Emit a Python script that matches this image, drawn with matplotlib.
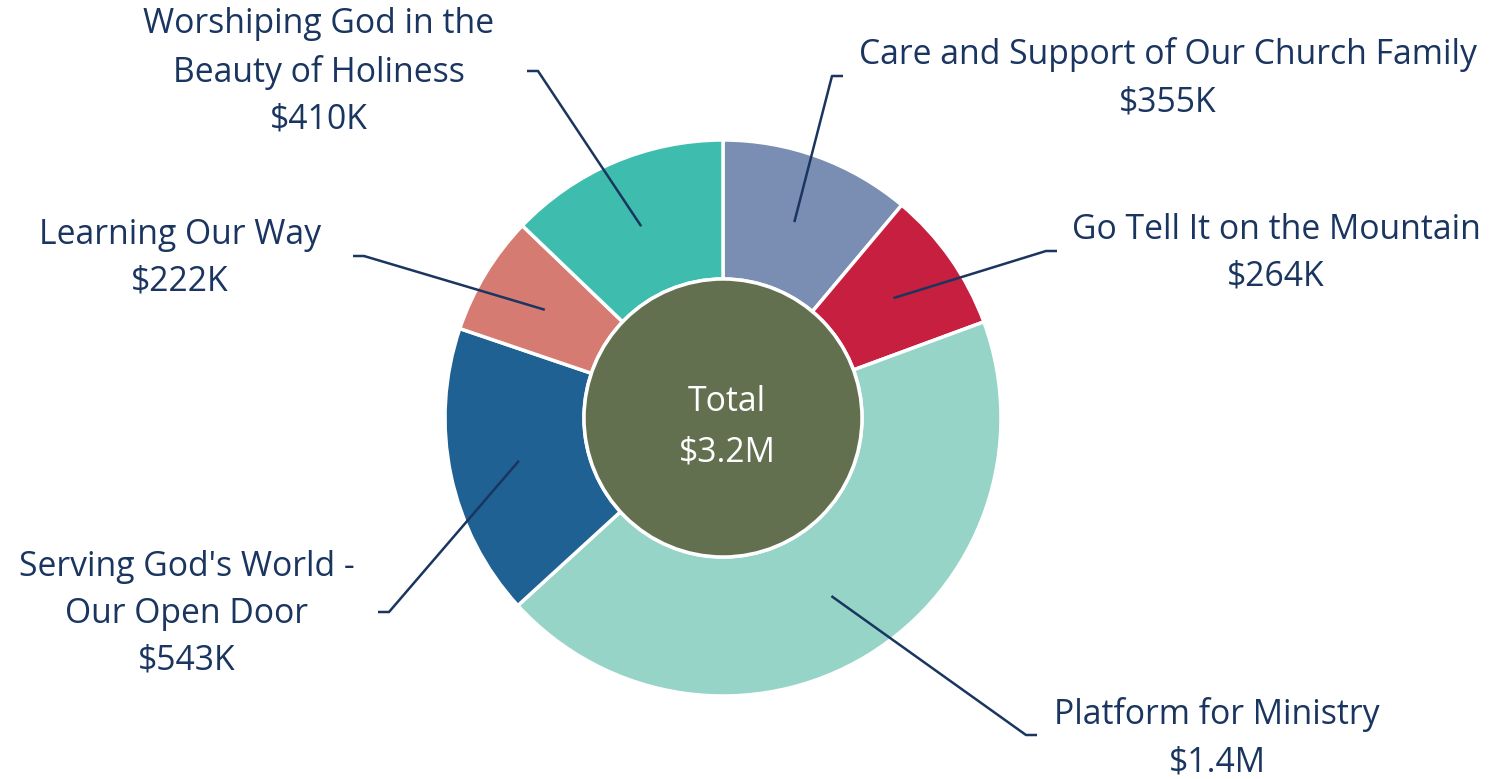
import matplotlib
matplotlib.use("Agg")
import matplotlib.pyplot as plt
import numpy as np
from matplotlib.patches import Circle

# data
categories = ["Care and Support of Our Church Family", "Go Tell It on the Mountain",
              "Platform for Ministry", "Serving God's World -\nOur Open Door",
              "Learning Our Way", "Worshiping God in the\nBeauty of Holiness"]
amounts = [355, 264, 1400, 543, 222, 410]   # $K
amount_labels = ["$355K", "$264K", "$1.4M", "$543K", "$222K", "$410K"]
total_label = "$3.2M"

colors = ["#7a8db3", "#c61f3f", "#97d4c8", "#206193", "#d67b72", "#3ebcad"]
text_color = "#1a3560"
center_color = "#627050"

W, H = 1499, 779
plt.rcParams['font.family'] = ['Open Sans', 'DejaVu Sans']
FS = 24.3

fig = plt.figure(figsize=(W / 100, H / 100), dpi=100)
ax = fig.add_axes([0, 0, 1, 1])

cx, cy, R = 723, H - 418, 278
wedges, _ = ax.pie(amounts, colors=colors, startangle=90, counterclock=False,
                   center=(cx, cy), radius=R,
                   wedgeprops=dict(width=R * 0.5, edgecolor='white', linewidth=2.5))
ax.add_patch(Circle((cx, cy), R * 0.5, facecolor=center_color, edgecolor='white', linewidth=2.5, zorder=3))
ax.text(cx + 4, H - 402, "Total", color='white', fontsize=FS, ha='center', va='center', zorder=4)
ax.text(cx + 4, H - 452, total_label, color='white', fontsize=FS, ha='center', va='center', zorder=4)

# label layout: (text centre x, text centre y, elbow start x, elbow y, side) in pixels from top-left
layout = [
    (1168, 78, 843, 76, -1),
    (1276, 253, 1057, 251, -1),
    (1217, 738, 1037, 735, -1),
    (187, 614, 378, 612, 1),
    (180, 258, 353, 256, 1),
    (319, 72, 527, 71, 1),
]

for w, cat, lab, (tx, ty, ex, ey, side) in zip(wedges, categories, amount_labels, layout):
    mid = np.deg2rad((w.theta1 + w.theta2) / 2)
    px, py = cx + 0.75 * R * np.cos(mid), cy + 0.75 * R * np.sin(mid)
    ax.plot([ex, ex + side * 11, px], [H - ey, H - ey, py], color=text_color, lw=1.8,
            solid_capstyle='butt', zorder=5)
    ax.text(tx, H - ty, cat + "\n" + lab, color=text_color, fontsize=FS, ha='center', va='center',
            linespacing=1.5, multialignment='center')

ax.set_xlim(0, W)
ax.set_ylim(0, H)
ax.set_aspect('equal')
ax.axis('off')

fig.savefig("out.png", dpi=100)
